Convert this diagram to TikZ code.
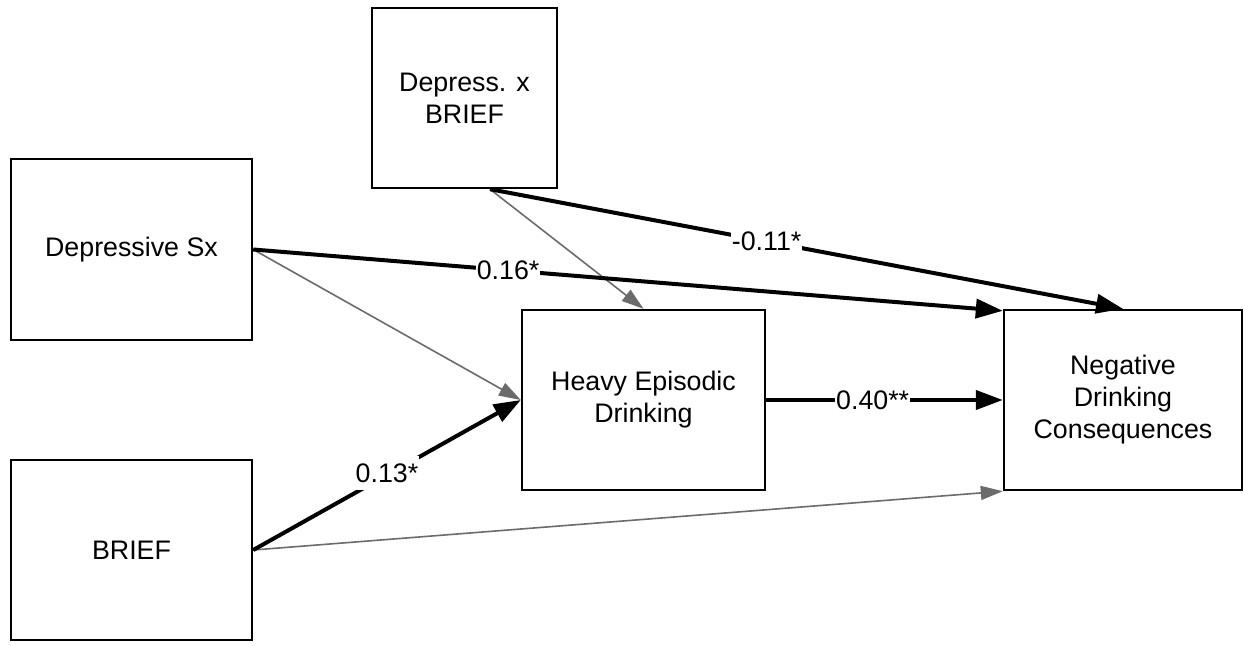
\documentclass[tikz,border=0pt]{standalone}
\usepackage{fontspec}
\setmainfont{Liberation Sans}
\usetikzlibrary{arrows.meta}
\begin{document}
\begin{tikzpicture}[x=1pt,y=-1pt,
  box/.style={draw=black, line width=2.4pt, fill=white, align=center, inner sep=0pt,
    font=\fontsize{26.8}{32}\selectfont},
  strong/.style={line width=4pt, black, -{Triangle[length=27pt,width=19pt]}},
  weak/.style={line width=1.6pt, draw=black!58, -{Triangle[length=22pt,width=14pt]}},
  lab/.style={fill=white, inner xsep=1pt, inner ysep=0pt, minimum height=34pt,
    font=\fontsize{26.8}{32}\selectfont}]
\useasboundingbox (0,0) rectangle (1244,645);
\node[box, minimum width=185pt, minimum height=180pt] (dxb) at (464.5,98) {Depress. x\\BRIEF};
\node[box, minimum width=241pt, minimum height=181pt] (dsx) at (131.5,249.5) {Depressive Sx};
\node[box, minimum width=241pt, minimum height=180pt] (brief) at (131.5,550) {BRIEF};
\node[box, minimum width=243pt, minimum height=180pt] (hed) at (643.5,400) {Heavy Episodic\\Drinking};
\node[box, minimum width=238pt, minimum height=180pt] (ndc) at (1123,400) {Negative\\Drinking\\Consequences};
\coordinate (dxbs) at ([xshift=25.5pt]dxb.south);
\coordinate (ndcw1) at ([yshift=-2pt]ndc.north west);
\draw[weak] (dxbs) -- (hed.north);
\draw[weak] (dsx.east) -- (hed.west);
\draw[weak] (brief.east) -- (ndc.south west);
\draw[strong] (dxbs) -- node[lab, pos=0.437] {-0.11*} (ndc.north);
\draw[strong] (dsx.east) -- node[lab, pos=0.34] {0.16*} (ndcw1);
\draw[strong] (brief.east) -- node[lab, pos=0.5, yshift=2pt] {0.13*} (hed.west);
\draw[strong] (hed.east) -- node[lab, pos=0.45] {0.40**} (ndc.west);
\end{tikzpicture}
\end{document}
